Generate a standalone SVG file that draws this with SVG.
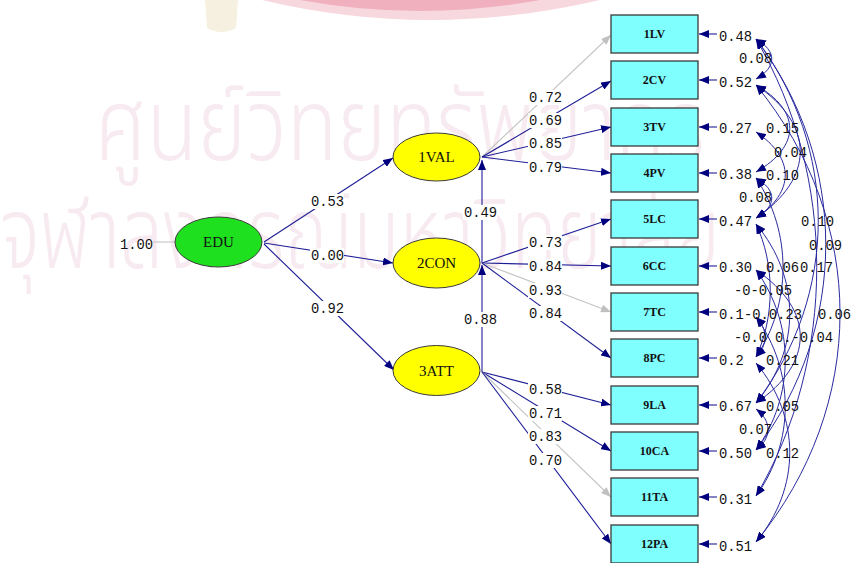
<svg xmlns="http://www.w3.org/2000/svg" width="854" height="563" viewBox="0 0 854 563">
<style>
.num{font-family:"Liberation Mono","Courier New",monospace;font-size:13.8px;fill:#111}
.lat{font-family:"Liberation Serif","Times New Roman",serif;font-size:15px;fill:#111;text-anchor:middle}
.obs{font-family:"Liberation Serif","Times New Roman",serif;font-size:12px;font-weight:bold;fill:#111;text-anchor:middle}
.box{fill:#80ffff;stroke:#3a3a3a;stroke-width:1.3}
.ell{stroke:#3a3a3a;stroke-width:1}
.ln{stroke:#1e1e96;stroke-width:1.1;fill:none}
.gl{stroke:#c4c4c4;stroke-width:1.1;fill:none}
.arc{stroke:#2a2aa0;stroke-width:1;fill:none}
.bg{fill:#ffffff}
.wm{font-family:"Noto Sans Thai","Noto Sans","DejaVu Sans",sans-serif;font-weight:300;fill:#f7eaf0}
</style>
<defs>
<marker id="ah" viewBox="0 0 10 8" refX="10" refY="4" markerWidth="10" markerHeight="8" markerUnits="userSpaceOnUse" orient="auto-start-reverse"><path d="M0,0 L10,4 L0,8 z" fill="#00007f"/></marker>
<marker id="ag" viewBox="0 0 10 8" refX="10" refY="4" markerWidth="10" markerHeight="8" markerUnits="userSpaceOnUse" orient="auto"><path d="M0,0 L10,4 L0,8 z" fill="#c0c0c0"/></marker>
</defs>
<rect width="854" height="563" fill="#ffffff"/>
<g id="watermark">
<path d="M262,0 Q430,40 600,0 Z" fill="#f8d8df"/>
<path d="M300,0 Q420,22 540,0 Z" fill="#f0b0be"/>
<path d="M205,0 L238,0 L236,28 Q221,36 207,28 Z" fill="#f5f0e0"/>
<text class="wm" x="95" y="160" font-size="100" textLength="610" lengthAdjust="spacingAndGlyphs">ศูนย์วิทยทรัพยากร</text>
<text class="wm" x="0" y="268" font-size="100" textLength="720" lengthAdjust="spacingAndGlyphs">จุฬาลงกรณ์มหาวิทยาลัย</text>
</g>
<g id="connectors">
<line class="gl" x1="153" y1="242" x2="175" y2="242"/>
<line class="ln" x1="264" y1="242" x2="393" y2="158" marker-end="url(#ah)"/>
<line class="ln" x1="264" y1="243" x2="393" y2="263" marker-end="url(#ah)"/>
<line class="ln" x1="264" y1="244" x2="394" y2="370" marker-end="url(#ah)"/>
<line class="ln" x1="482" y1="263" x2="482" y2="160" marker-end="url(#ah)"/>
<line class="ln" x1="482" y1="372" x2="482" y2="265" marker-end="url(#ah)"/>
<line class="gl" x1="482" y1="157" x2="611" y2="35" marker-end="url(#ag)"/>
<line class="ln" x1="482" y1="157" x2="611" y2="81" marker-end="url(#ah)"/>
<line class="ln" x1="482" y1="157" x2="611" y2="127" marker-end="url(#ah)"/>
<line class="ln" x1="482" y1="157" x2="611" y2="173" marker-end="url(#ah)"/>
<line class="ln" x1="482" y1="263" x2="611" y2="219" marker-end="url(#ah)"/>
<line class="ln" x1="482" y1="263" x2="611" y2="266" marker-end="url(#ah)"/>
<line class="gl" x1="482" y1="263" x2="611" y2="312" marker-end="url(#ag)"/>
<line class="ln" x1="482" y1="263" x2="611" y2="358" marker-end="url(#ah)"/>
<line class="ln" x1="482" y1="372" x2="611" y2="405" marker-end="url(#ah)"/>
<line class="ln" x1="482" y1="372" x2="611" y2="451" marker-end="url(#ah)"/>
<line class="gl" x1="482" y1="372" x2="611" y2="497" marker-end="url(#ag)"/>
<line class="ln" x1="482" y1="372" x2="611" y2="544" marker-end="url(#ah)"/>
<line class="ln" x1="717" y1="34" x2="699" y2="34" marker-end="url(#ah)"/>
<line class="ln" x1="717" y1="80" x2="699" y2="80" marker-end="url(#ah)"/>
<line class="ln" x1="717" y1="127" x2="699" y2="127" marker-end="url(#ah)"/>
<line class="ln" x1="717" y1="173" x2="699" y2="173" marker-end="url(#ah)"/>
<line class="ln" x1="717" y1="219" x2="699" y2="219" marker-end="url(#ah)"/>
<line class="ln" x1="717" y1="266" x2="699" y2="266" marker-end="url(#ah)"/>
<line class="ln" x1="717" y1="312" x2="699" y2="312" marker-end="url(#ah)"/>
<line class="ln" x1="717" y1="358" x2="699" y2="358" marker-end="url(#ah)"/>
<line class="ln" x1="717" y1="405" x2="699" y2="405" marker-end="url(#ah)"/>
<line class="ln" x1="717" y1="451" x2="699" y2="451" marker-end="url(#ah)"/>
<line class="ln" x1="717" y1="497" x2="699" y2="497" marker-end="url(#ah)"/>
<line class="ln" x1="717" y1="544" x2="699" y2="544" marker-end="url(#ah)"/>
<path class="arc" d="M756,39 C777,51 777,67 756,79" marker-start="url(#ah)" marker-end="url(#ah)"/>
<path class="arc" d="M756,85 C801,111 801,146 756,172" marker-start="url(#ah)" marker-end="url(#ah)"/>
<path class="arc" d="M756,85 C815,125 815,178 756,218" marker-start="url(#ah)" marker-end="url(#ah)"/>
<path class="arc" d="M756,132 C795,158 795,192 756,218" marker-start="url(#ah)" marker-end="url(#ah)"/>
<path class="arc" d="M756,178 C777,190 777,206 756,218" marker-start="url(#ah)" marker-end="url(#ah)"/>
<path class="arc" d="M756,39 C839,148 839,294 756,403" marker-start="url(#ah)" marker-end="url(#ah)"/>
<path class="arc" d="M756,39 C849,162 849,327 756,450" marker-start="url(#ah)" marker-end="url(#ah)"/>
<path class="arc" d="M756,178 C792,232 792,303 756,357" marker-start="url(#ah)" marker-end="url(#ah)"/>
<path class="arc" d="M756,39 C837,176 837,359 756,496" marker-start="url(#ah)" marker-end="url(#ah)"/>
<path class="arc" d="M756,224 C775,264 775,317 756,357" marker-start="url(#ah)" marker-end="url(#ah)"/>
<path class="arc" d="M756,224 C801,278 801,349 756,403" marker-start="url(#ah)" marker-end="url(#ah)"/>
<path class="arc" d="M756,85 C868,222 868,405 756,542" marker-start="url(#ah)" marker-end="url(#ah)"/>
<path class="arc" d="M756,317 C768,329 768,345 756,357" marker-start="url(#ah)" marker-end="url(#ah)"/>
<path class="arc" d="M756,270 C815,310 815,363 756,403" marker-start="url(#ah)" marker-end="url(#ah)"/>
<path class="arc" d="M756,270 C795,324 795,396 756,450" marker-start="url(#ah)" marker-end="url(#ah)"/>
<path class="arc" d="M756,317 C795,371 795,442 756,496" marker-start="url(#ah)" marker-end="url(#ah)"/>
<path class="arc" d="M756,409 C772,421 772,438 756,450" marker-start="url(#ah)" marker-end="url(#ah)"/>
<path class="arc" d="M756,363 C801,417 801,488 756,542" marker-start="url(#ah)" marker-end="url(#ah)"/>
</g>
<g id="path-labels">
<rect class="bg" x="310" y="194" width="34" height="15"/><text class="num" x="311" y="206">0.53</text>
<rect class="bg" x="310" y="248" width="34" height="15"/><text class="num" x="311" y="260">0.00</text>
<rect class="bg" x="310" y="301" width="34" height="15"/><text class="num" x="311" y="313">0.92</text>
<rect class="bg" x="463" y="205" width="34" height="15"/><text class="num" x="464" y="217">0.49</text>
<rect class="bg" x="463" y="312" width="34" height="15"/><text class="num" x="464" y="324">0.88</text>
<rect class="bg" x="528" y="90" width="34" height="15"/><text class="num" x="529" y="102">0.72</text>
<rect class="bg" x="528" y="113" width="34" height="15"/><text class="num" x="529" y="125">0.69</text>
<rect class="bg" x="528" y="136" width="34" height="15"/><text class="num" x="529" y="148">0.85</text>
<rect class="bg" x="528" y="160" width="34" height="15"/><text class="num" x="529" y="172">0.79</text>
<rect class="bg" x="528" y="235" width="34" height="15"/><text class="num" x="529" y="247">0.73</text>
<rect class="bg" x="528" y="259" width="34" height="15"/><text class="num" x="529" y="271">0.84</text>
<rect class="bg" x="528" y="283" width="34" height="15"/><text class="num" x="529" y="295">0.93</text>
<rect class="bg" x="528" y="306" width="34" height="15"/><text class="num" x="529" y="318">0.84</text>
<rect class="bg" x="528" y="382" width="34" height="15"/><text class="num" x="529" y="394">0.58</text>
<rect class="bg" x="528" y="406" width="34" height="15"/><text class="num" x="529" y="418">0.71</text>
<rect class="bg" x="528" y="429" width="34" height="15"/><text class="num" x="529" y="441">0.83</text>
<rect class="bg" x="528" y="453" width="34" height="15"/><text class="num" x="529" y="465">0.70</text>
<text class="num" x="120" y="249">1.00</text>
</g>
<g id="error-labels">
<text class="num" x="719" y="41">0.48</text>
<text class="num" x="719" y="87">0.52</text>
<text class="num" x="719" y="133">0.27</text>
<text class="num" x="719" y="179">0.38</text>
<text class="num" x="719" y="226">0.47</text>
<text class="num" x="719" y="272">0.30</text>
<text class="num" x="719" y="319">0.1</text>
<text class="num" x="719" y="365">0.2</text>
<text class="num" x="719" y="411">0.67</text>
<text class="num" x="719" y="458">0.50</text>
<text class="num" x="719" y="504">0.31</text>
<text class="num" x="719" y="551">0.51</text>
</g>
<g id="cov-labels">
<text class="num" x="739" y="63">0.08</text>
<text class="num" x="766" y="133">0.15</text>
<text class="num" x="774" y="157">0.04</text>
<text class="num" x="766" y="180">0.10</text>
<text class="num" x="739" y="202">0.08</text>
<text class="num" x="801" y="226">0.10</text>
<text class="num" x="809" y="250">0.09</text>
<text class="num" x="766" y="272">0.06</text>
<text class="num" x="800" y="272">0.17</text>
<text class="num" x="734" y="295">-0-0.05</text>
<text class="num" x="744" y="319">-0.0.23</text>
<text class="num" x="818" y="319">0.06</text>
<text class="num" x="734" y="342">-0.0</text>
<text class="num" x="775" y="342">0.-0.04</text>
<text class="num" x="766" y="365">0.21</text>
<text class="num" x="766" y="411">0.05</text>
<text class="num" x="739" y="434">0.07</text>
<text class="num" x="766" y="458">0.12</text>
</g>
<g id="EDU"><ellipse class="ell" cx="218.5" cy="242" rx="43.5" ry="25" fill="#1ee01e"/><text class="lat" x="218.5" y="247">EDU</text></g>
<g id="VAL"><ellipse class="ell" cx="436.5" cy="157" rx="43.5" ry="24" fill="#ffff00"/><text class="lat" x="436.5" y="162">1VAL</text></g>
<g id="CON"><ellipse class="ell" cx="436.5" cy="263" rx="43.5" ry="25" fill="#ffff00"/><text class="lat" x="436.5" y="268">2CON</text></g>
<g id="ATT"><ellipse class="ell" cx="436.5" cy="370.5" rx="43.5" ry="25" fill="#ffff00"/><text class="lat" x="436.5" y="375.5">3ATT</text></g>
<g id="LV"><rect class="box" x="611" y="15" width="87" height="38"/><text class="obs" x="654.5" y="38">1LV</text></g>
<g id="CV"><rect class="box" x="611" y="61" width="87" height="38"/><text class="obs" x="654.5" y="84">2CV</text></g>
<g id="TV"><rect class="box" x="611" y="108" width="87" height="38"/><text class="obs" x="654.5" y="131">3TV</text></g>
<g id="PV"><rect class="box" x="611" y="154" width="87" height="38"/><text class="obs" x="654.5" y="177">4PV</text></g>
<g id="LC"><rect class="box" x="611" y="200" width="87" height="38"/><text class="obs" x="654.5" y="223">5LC</text></g>
<g id="CC"><rect class="box" x="611" y="247" width="87" height="38"/><text class="obs" x="654.5" y="270">6CC</text></g>
<g id="TC"><rect class="box" x="611" y="293" width="87" height="38"/><text class="obs" x="654.5" y="316">7TC</text></g>
<g id="PC"><rect class="box" x="611" y="339" width="87" height="38"/><text class="obs" x="654.5" y="362">8PC</text></g>
<g id="LA"><rect class="box" x="611" y="386" width="87" height="38"/><text class="obs" x="654.5" y="409">9LA</text></g>
<g id="CA"><rect class="box" x="611" y="432" width="87" height="38"/><text class="obs" x="654.5" y="455">10CA</text></g>
<g id="TA"><rect class="box" x="611" y="478" width="87" height="38"/><text class="obs" x="654.5" y="501">11TA</text></g>
<g id="PA"><rect class="box" x="611" y="525" width="87" height="38"/><text class="obs" x="654.5" y="548">12PA</text></g>
</svg>
